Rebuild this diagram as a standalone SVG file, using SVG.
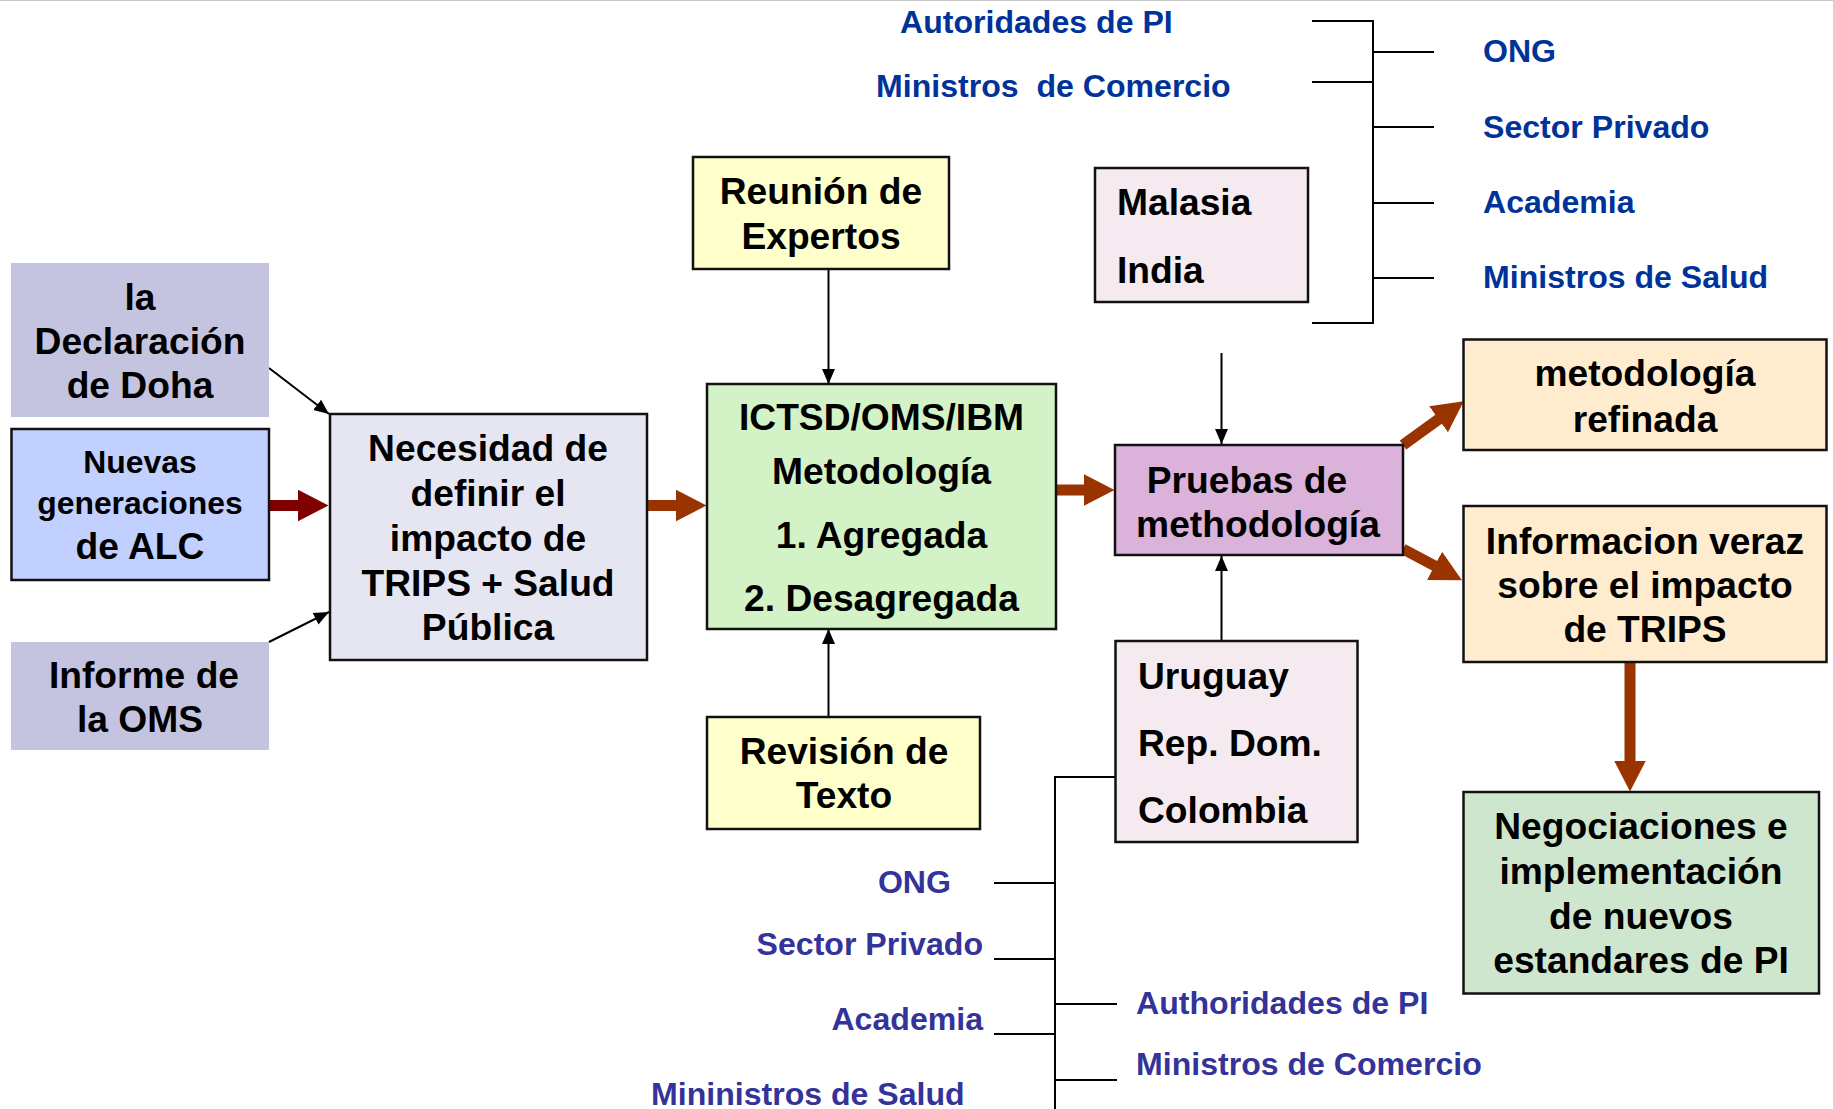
<svg xmlns="http://www.w3.org/2000/svg" width="1833" height="1109" viewBox="0 0 1833 1109">
<defs>
<style>
.box{stroke:#111;stroke-width:2.5}
.t{font-family:"Liberation Sans",Arial,sans-serif;font-weight:bold;font-size:37.2px;fill:#000;text-anchor:middle}
.l{text-anchor:start}
.sm{font-size:31.9px}
.bl{font-family:"Liberation Sans",Arial,sans-serif;font-weight:bold;font-size:32.1px;fill:#003399}
.pb{font-family:"Liberation Sans",Arial,sans-serif;font-weight:bold;font-size:32.1px;fill:#333399}
.thin{stroke:#000;stroke-width:2;fill:none}
.br{stroke:#000;stroke-width:2;fill:none}
.thick{stroke:#993300;stroke-width:11;fill:none}
</style>
<marker id="ah" markerUnits="userSpaceOnUse" markerWidth="16" markerHeight="14" viewBox="0 -7 16 14" refX="15" refY="0" orient="auto">
<path d="M0,-6.5 L15,0 L0,6.5 z" fill="#000"/>
</marker>
<marker id="tb" markerUnits="userSpaceOnUse" markerWidth="32" markerHeight="34" viewBox="0 -17 32 34" refX="0.5" refY="0" orient="auto">
<path d="M0,-16 L31,0 L0,16 z" fill="#993300"/>
</marker>
<marker id="tm" markerUnits="userSpaceOnUse" markerWidth="32" markerHeight="34" viewBox="0 -17 32 34" refX="0.5" refY="0" orient="auto">
<path d="M0,-16 L31,0 L0,16 z" fill="#800000"/>
</marker>
</defs>
<rect x="0" y="0" width="1833" height="1109" fill="#fff"/>
<line x1="0" y1="0.5" x2="1833" y2="0.5" stroke="#c8c8c8" stroke-width="1"/>

<g id="connectors">
<line class="thin" x1="269" y1="368" x2="329" y2="414" marker-end="url(#ah)"/>
<line class="thin" x1="269" y1="642" x2="329" y2="612" marker-end="url(#ah)"/>
<line x1="269" y1="505.5" x2="298" y2="505.5" stroke="#800000" stroke-width="11" marker-end="url(#tm)"/>
<line class="thick" x1="647" y1="505.5" x2="676" y2="505.5" marker-end="url(#tb)"/>
<line class="thick" x1="1056" y1="490" x2="1084" y2="490" marker-end="url(#tb)"/>
<line class="thick" x1="1403" y1="445" x2="1439" y2="419" marker-end="url(#tb)"/>
<line class="thick" x1="1403" y1="549" x2="1435" y2="566" marker-end="url(#tb)"/>
<line class="thick" x1="1630" y1="662" x2="1630" y2="761" marker-end="url(#tb)"/>
<line class="thin" x1="828.5" y1="269" x2="828.5" y2="384" marker-end="url(#ah)"/>
<line class="thin" x1="828.5" y1="717" x2="828.5" y2="629" marker-end="url(#ah)"/>
<line class="thin" x1="1221.5" y1="353" x2="1221.5" y2="444" marker-end="url(#ah)"/>
<line class="thin" x1="1221.5" y1="641" x2="1221.5" y2="556" marker-end="url(#ah)"/>
<path class="br" d="M1312,21 H1373 V323 H1312 M1312,82 H1373 M1373,52 H1434 M1373,127 H1434 M1373,203 H1434 M1373,278 H1434"/>
<path class="br" d="M1115,777 H1055 V1109 M994,883 H1055 M994,959 H1055 M994,1034 H1055 M1055,1004 H1117 M1055,1080 H1117"/>
</g>

<g id="doha">
<rect x="11" y="263" width="258" height="154" fill="#C4C4E1"/>
<text class="t" x="140" y="310">la</text>
<text class="t" x="140" y="354">Declaración</text>
<text class="t" x="140" y="398">de Doha</text>
</g>
<g id="nuevas">
<rect class="box" x="11.5" y="429" width="257.5" height="151" fill="#C2D0FF"/>
<text class="t sm" x="140" y="473">Nuevas</text>
<text class="t sm" x="140" y="514">generaciones</text>
<text class="t" x="140" y="559">de ALC</text>
</g>
<g id="informe">
<rect x="11" y="642" width="258" height="108" fill="#C4C4E1"/>
<text class="t" x="144" y="688">Informe de</text>
<text class="t" x="140" y="732">la OMS</text>
</g>
<g id="necesidad">
<rect class="box" x="330" y="414" width="317" height="246" fill="#E6E6F2"/>
<text class="t" x="488" y="461">Necesidad de</text>
<text class="t" x="488" y="506">definir el</text>
<text class="t" x="488" y="551">impacto de</text>
<text class="t" x="488" y="596">TRIPS + Salud</text>
<text class="t" x="488" y="640">Pública</text>
</g>
<g id="reunion">
<rect class="box" x="693" y="157" width="256" height="112" fill="#FFFFCC"/>
<text class="t" x="821" y="204">Reunión de</text>
<text class="t" x="821" y="249">Expertos</text>
</g>
<g id="ictsd">
<rect class="box" x="707" y="384" width="349" height="245" fill="#D3F2C5"/>
<text class="t" x="881.5" y="430">ICTSD/OMS/IBM</text>
<text class="t" x="881.5" y="484">Metodología</text>
<text class="t" x="881.5" y="548">1. Agregada</text>
<text class="t" x="881.5" y="611">2. Desagregada</text>
</g>
<g id="revision">
<rect class="box" x="707" y="717" width="273" height="112" fill="#FFFFCC"/>
<text class="t" x="844" y="764">Revisión de</text>
<text class="t" x="844" y="808">Texto</text>
</g>
<g id="malasia">
<rect class="box" x="1095" y="168" width="213" height="134" fill="#F4EAF0"/>
<text class="t l" x="1117" y="215">Malasia</text>
<text class="t l" x="1117" y="283">India</text>
</g>
<g id="pruebas">
<rect class="box" x="1115" y="445" width="288" height="110" fill="#DAB2DA"/>
<text class="t" x="1247" y="493">Pruebas de</text>
<text class="t" x="1258" y="537">methodología</text>
</g>
<g id="uruguay">
<rect class="box" x="1115.5" y="641" width="242" height="201" fill="#F4EAF0"/>
<text class="t l" x="1138" y="689">Uruguay</text>
<text class="t l" x="1138" y="756">Rep. Dom.</text>
<text class="t l" x="1138" y="823">Colombia</text>
</g>
<g id="metodologia">
<rect class="box" x="1463.5" y="339.5" width="363" height="110.5" fill="#FFEBCD"/>
<text class="t" x="1645" y="386">metodología</text>
<text class="t" x="1645" y="432">refinada</text>
</g>
<g id="informacion">
<rect class="box" x="1463.5" y="506" width="363" height="156" fill="#FFEBCD"/>
<text class="t" x="1645" y="554">Informacion veraz</text>
<text class="t" x="1645" y="598">sobre el impacto</text>
<text class="t" x="1645" y="642">de TRIPS</text>
</g>
<g id="negociaciones">
<rect class="box" x="1463.5" y="792" width="355.5" height="201.5" fill="#CEE6CE"/>
<text class="t" x="1641" y="839">Negociaciones e</text>
<text class="t" x="1641" y="884">implementación</text>
<text class="t" x="1641" y="929">de nuevos</text>
<text class="t" x="1641" y="973">estandares de PI</text>
</g>
<g id="labels-top">
<text class="bl" x="900" y="33">Autoridades de PI</text>
<text class="bl" x="876" y="97" xml:space="preserve">Ministros  de Comercio</text>
<text class="bl" x="1483" y="62">ONG</text>
<text class="bl" x="1483" y="138">Sector Privado</text>
<text class="bl" x="1483" y="213">Academia</text>
<text class="bl" x="1483" y="288">Ministros de Salud</text>
</g>
<g id="labels-bottom">
<text class="pb" x="951" y="893" text-anchor="end">ONG</text>
<text class="pb" x="983" y="955" text-anchor="end">Sector Privado</text>
<text class="pb" x="983" y="1030" text-anchor="end">Academia</text>
<text class="pb" x="651" y="1105">Mininistros de Salud</text>
<text class="pb" x="1136" y="1014">Authoridades de PI</text>
<text class="pb" x="1136" y="1075">Ministros de Comercio</text>
</g>
</svg>
